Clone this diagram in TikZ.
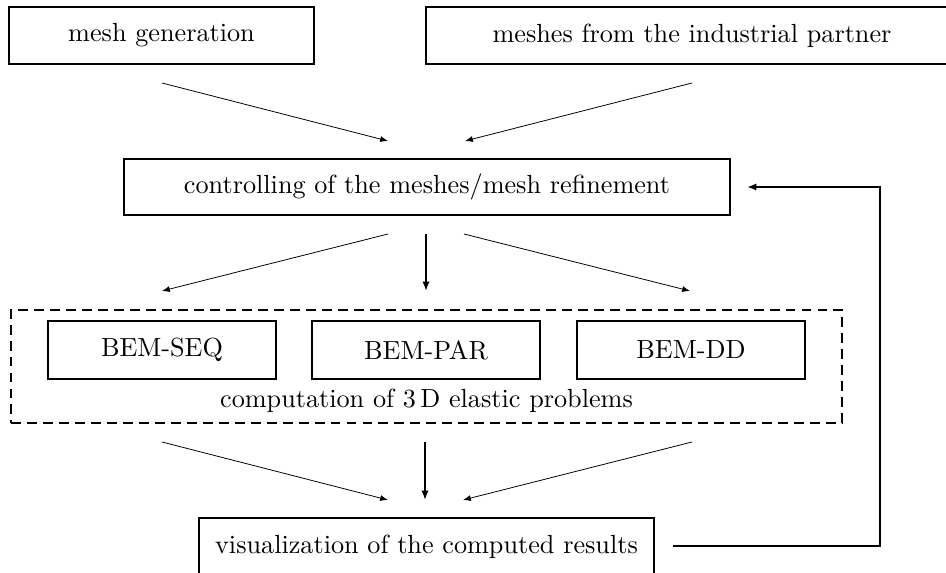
\documentclass[tikz,border=0pt]{standalone}
\usetikzlibrary{arrows.meta}

\tikzset{
  stage/.style={draw, line width=0.8pt, rectangle, inner sep=0pt, minimum height=0.765cm},
  flow/.style={->, line width=0.3pt, >={Latex[length=3pt,width=2.3pt]}},
  mainflow/.style={->, line width=0.65pt, >={Latex[length=3.6pt,width=2.8pt]}},
  loopback/.style={->, line width=0.95pt, >={Latex[length=3.6pt,width=2.8pt]}},
}

\begin{document}
\begin{tikzpicture}[x=0.01342cm, y=-0.01342cm]
    \clip (0,0) rectangle (946,573);

    \node[stage, minimum width=4.093cm] (gen) at (161.5,35.5) {mesh generation};
    \node[stage, minimum width=7.14cm] (partner) at (692,35.5) {meshes from the industrial partner};

    \node[stage, minimum width=8.13cm, minimum height=0.75cm] (ctrl) at (427,187) {controlling of the meshes/mesh refinement};

    \node[draw, dashed, dash pattern=on 3.8pt off 2.3pt, line width=0.8pt, inner sep=0pt,
          minimum width=11.15cm, minimum height=1.516cm] (frame) at (426.5,366.5) {};
    \node[stage, minimum width=3.06cm, minimum height=0.778cm] (seq) at (162,350) {BEM-SEQ};
    \node[stage, minimum width=3.06cm, minimum height=0.778cm] (par) at (426,350) {BEM-PAR};
    \node[stage, minimum width=3.06cm, minimum height=0.778cm] (dd) at (691,350) {BEM-DD};
    \node (comp) at (426.5,401) {computation of 3\,D elastic problems};

    \node[stage, minimum width=6.106cm] (vis) at (426.5,546.5) {visualization of the computed results};

    % free arrow ends
    \coordinate (A0) at (162,83);
    \coordinate (A1) at (388,141);
    \coordinate (B0) at (692,83);
    \coordinate (B1) at (465,141);

    \coordinate (C0) at (388,234);
    \coordinate (C1) at (162,291);
    \coordinate (D0) at (426,234);
    \coordinate (D1) at (426,291);
    \coordinate (E0) at (464,234);
    \coordinate (E1) at (690,291);

    \coordinate (F0) at (162,442);
    \coordinate (F1) at (388,500);
    \coordinate (G0) at (425,442);
    \coordinate (G1) at (425,500);
    \coordinate (H0) at (692,442);
    \coordinate (H1) at (463,500);

    \coordinate (R0) at (673,546);
    \coordinate (R1) at (880,546);
    \coordinate (R2) at (880,187);
    \coordinate (R3) at (747,187);

    \draw[flow] (A0) -- (A1);
    \draw[flow] (B0) -- (B1);

    \draw[flow] (C0) -- (C1);
    \draw[mainflow] (D0) -- (D1);
    \draw[flow] (E0) -- (E1);

    \draw[flow] (F0) -- (F1);
    \draw[mainflow] (G0) -- (G1);
    \draw[flow] (H0) -- (H1);

    \draw[loopback] (R0) -- (R1) -- (R2) -- (R3);
\end{tikzpicture}
\end{document}
